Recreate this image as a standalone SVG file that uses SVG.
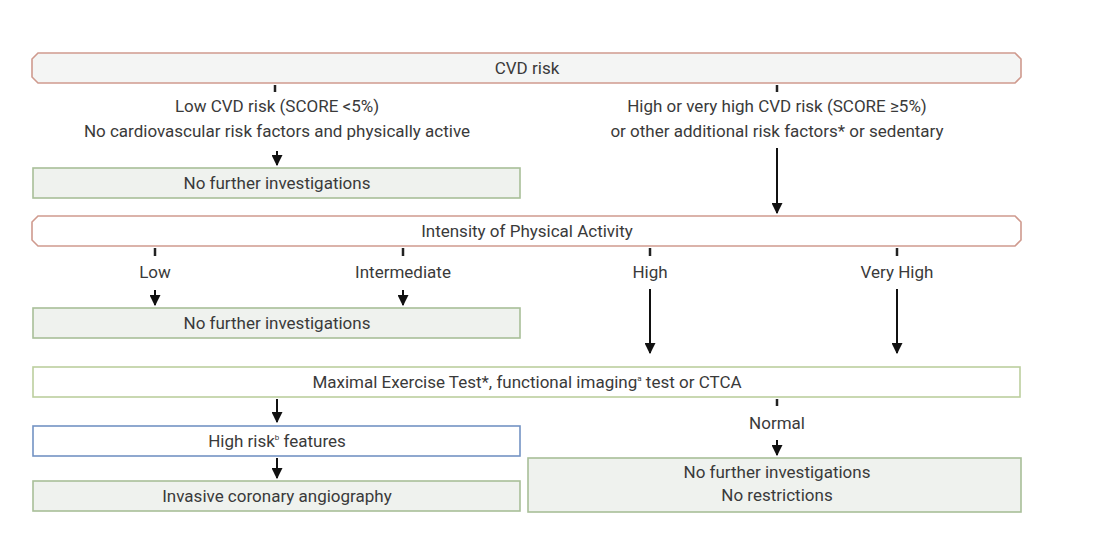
<svg xmlns="http://www.w3.org/2000/svg" width="1101" height="535" viewBox="0 0 1101 535">
<style>
text{font-family:Roboto,"Liberation Sans",sans-serif;font-size:17px;fill:#3a3a3a;text-anchor:middle}
.hdr{fill:#f4f5f4;stroke:#cf9a8e;stroke-width:1.6}
.hdr2{fill:#ffffff;stroke:#cf9a8e;stroke-width:1.6}
.grn{fill:#eff2ee;stroke:#a8bf98;stroke-width:1.6}
.grnw{fill:#ffffff;stroke:#bccf9e;stroke-width:1.6}
.blu{fill:#ffffff;stroke:#7393c4;stroke-width:1.6}
.ln{stroke:#111;stroke-width:2;fill:none}
.tk{stroke:#222;stroke-width:2.5}
</style>
<defs>
<marker id="ah" viewBox="0 0 10 10" refX="9" refY="5" markerWidth="5.5" markerHeight="5.5" orient="auto" markerUnits="strokeWidth">
<path d="M0,0 L10,5 L0,10 z" fill="#111"/>
</marker>
</defs>
<rect width="1101" height="535" fill="#ffffff"/>
<g id="cvd">
<path class="hdr" d="M38,53 H1015 L1021,59 V77 L1015,83 H38 L32,77 V59 Z"/>
<text x="527" y="74">CVD risk</text>
</g>
<g id="low-label">
<text x="277" y="112">Low CVD risk (SCORE &lt;5%)</text>
<text x="277" y="137">No cardiovascular risk factors and physically active</text>
</g>
<g id="high-label">
<text x="777" y="112">High or very high CVD risk (SCORE ≥5%)</text>
<text x="777" y="137">or other additional risk factors* or sedentary</text>
</g>
<g id="nfi1">
<rect class="grn" x="33" y="168" width="487" height="30"/>
<text x="277" y="189">No further investigations</text>
</g>
<g id="intensity">
<path class="hdr2" d="M38,216 H1015 L1021,222 V240 L1015,246 H38 L32,240 V222 Z"/>
<text x="527" y="237">Intensity of Physical Activity</text>
</g>
<g id="lbl-low"><text x="155" y="278">Low</text></g>
<g id="lbl-int"><text x="403" y="278">Intermediate</text></g>
<g id="lbl-high"><text x="650" y="278">High</text></g>
<g id="lbl-vhigh"><text x="897" y="278">Very High</text></g>
<g id="nfi2">
<rect class="grn" x="33" y="308" width="487" height="30"/>
<text x="277" y="329">No further investigations</text>
</g>
<g id="exercise">
<rect class="grnw" x="33" y="367" width="987" height="30"/>
<text x="527" y="388">Maximal Exercise Test*, functional imaging<tspan font-size="8" dy="-7">a</tspan><tspan dy="7"> test or CTCA</tspan></text>
</g>
<g id="highrisk">
<rect class="blu" x="33" y="426" width="487" height="30"/>
<text x="277" y="447">High risk<tspan font-size="8" dy="-7">b</tspan><tspan dy="7"> features</tspan></text>
</g>
<g id="invasive">
<rect class="grn" x="33" y="481" width="487" height="30"/>
<text x="277" y="502">Invasive coronary angiography</text>
</g>
<g id="lbl-normal"><text x="777" y="429">Normal</text></g>
<g id="norestr">
<rect class="grn" x="528" y="458" width="493" height="54"/>
<text x="777" y="478">No further investigations</text>
<text x="777" y="501">No restrictions</text>
</g>
<g id="connectors">
<line class="tk" x1="275" y1="85" x2="275" y2="92"/>
<line class="tk" x1="777" y1="85" x2="777" y2="92"/>
<line class="ln" x1="277" y1="151" x2="277" y2="165" marker-end="url(#ah)"/>
<line class="ln" x1="777" y1="148" x2="777" y2="213" marker-end="url(#ah)"/>
<line class="tk" x1="155" y1="248" x2="155" y2="256"/>
<line class="tk" x1="403" y1="248" x2="403" y2="256"/>
<line class="tk" x1="650" y1="248" x2="650" y2="256"/>
<line class="tk" x1="897" y1="248" x2="897" y2="256"/>
<line class="ln" x1="155" y1="290" x2="155" y2="305" marker-end="url(#ah)"/>
<line class="ln" x1="403" y1="290" x2="403" y2="305" marker-end="url(#ah)"/>
<line class="ln" x1="650" y1="289" x2="650" y2="353" marker-end="url(#ah)"/>
<line class="ln" x1="897" y1="289" x2="897" y2="353" marker-end="url(#ah)"/>
<line class="ln" x1="277" y1="399" x2="277" y2="422" marker-end="url(#ah)"/>
<line class="ln" x1="277" y1="458" x2="277" y2="478" marker-end="url(#ah)"/>
<line class="tk" x1="777" y1="399" x2="777" y2="406"/>
<line class="ln" x1="777" y1="440" x2="777" y2="455" marker-end="url(#ah)"/>
</g>
</svg>
